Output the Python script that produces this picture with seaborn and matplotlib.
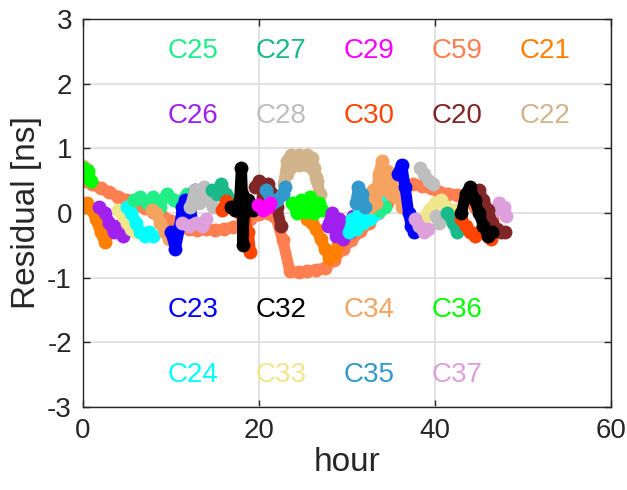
import matplotlib
matplotlib.use("Agg")
import matplotlib.pyplot as plt
import pandas as pd
import seaborn as sns

# residual passes per satellite, hours and ns
C59_HOUR = [[0, 1, 2, 3, 4, 5, 6, 7, 8, 9, 10, 11, 12, 13, 14, 15, 16, 17, 18, 19,
             20, 21, 22, 22.7, 23.5, 24.5, 25.5, 26.5, 27.5, 28.5, 29.5, 30.5, 31.5,
             32.5, 33.5, 34.5, 35.5, 36.5, 37.5, 38.5, 39.5, 40.5, 41.5, 42.5, 43.5,
             44.5, 45.5, 46.5]]
C59_RES = [[0.5, 0.45, 0.38, 0.32, 0.25, 0.2, 0.12, 0.08, 0.02, -0.05, -0.12, -0.2,
            -0.25, -0.27, -0.25, -0.27, -0.25, -0.22, -0.18, -0.1, -0.02, 0.0, -0.1,
            -0.42, -0.9, -0.92, -0.9, -0.88, -0.85, -0.72, -0.55, -0.42, -0.28, -0.15,
            0.0, 0.15, 0.3, 0.4, 0.45, 0.42, 0.38, 0.32, 0.3, 0.28, 0.22, 0.1, 0.0, -0.1]]
C21_HOUR = [[0, 0.5, 1, 1.5, 2, 2.5, 3], [25.5, 26, 26.5, 27, 27.5, 28, 28.5, 29]]
C21_RES = [[0.1, 0.15, 0.05, -0.1, -0.3, -0.45, -0.3], [-0.1, -0.15, -0.25, -0.4, -0.55, -0.7, -0.65, -0.5]]
C22_HOUR = [[0, 0.4], [22.8, 23.2, 23.6, 24, 24.5, 25, 25.5, 26, 26.3, 26.6, 26.9,
                       26.5, 26, 25.5, 25, 24.5, 24, 23.5, 23.2]]
C22_RES = [[0.72, 0.68], [0.45, 0.8, 0.9, 0.85, 0.9, 0.85, 0.9, 0.85, 0.7, 0.5, 0.3,
                          0.55, 0.7, 0.75, 0.8, 0.75, 0.8, 0.7, 0.6]]
C36_HOUR = [[0, 0.3, 0.6, 0.9], [23.8, 24.3, 24.8, 25.3, 25.8, 26.3, 26.8, 27.2]]
C36_RES = [[0.7, 0.55, 0.65, 0.5], [0.15, 0.0, 0.2, 0.02, 0.25, 0.0, 0.15, 0.05]]
C26_HOUR = [[1.8, 2.5, 3, 3.5, 4, 4.5], [27.8, 28.3, 28.7, 29.1, 29.5, 29.9, 30.3, 30.7, 31.1, 31.5]]
C26_RES = [[0.1, 0.0, -0.15, -0.3, -0.2, -0.35], [-0.2, 0.0, -0.35, -0.1, -0.4, -0.15, -0.3, -0.05, -0.2, 0.0]]
C33_HOUR = [[4, 4.5, 5, 5.5, 6], [38.7, 39.3, 40, 40.7, 41.3, 42, 42.5]]
C33_RES = [[0.05, -0.05, -0.15, -0.25, -0.3], [-0.1, 0.05, 0.15, 0.2, 0.1, 0.05, -0.05]]
C24_HOUR = [[5, 5.5, 6, 6.5, 7, 7.5, 8], [30.2, 30.6, 31, 31.4, 31.8, 32.2, 32.6, 33, 33.4, 33.8]]
C24_RES = [[0.1, 0.0, -0.15, -0.3, -0.35, -0.3, -0.35], [-0.3, -0.1, -0.25, 0.0, -0.15, 0.1, -0.1, 0.15, 0.0, 0.2]]
C25_HOUR = [[5.8, 6.5, 7.3, 8, 8.7, 9.5, 10.3, 11, 11.8], [33.3, 33.8, 34.3]]
C25_RES = [[0.2, 0.25, 0.15, 0.25, 0.1, 0.3, 0.2, 0.15, 0.3], [0.1, 0.05, 0.1]]
C34_HOUR = [[7.8, 8.3, 8.8, 9.3, 9.8], [32.6, 33, 33.3, 33.6, 34, 34.3, 34.6, 35, 35.3, 35.6, 36, 36.3, 36.6]]
C34_RES = [[0.05, 0.0, -0.15, -0.3, -0.4], [0.1, 0.35, 0.15, 0.6, 0.8, 0.35, 0.65, 0.3, 0.6, 0.25, 0.45, 0.1, 0.25]]
C23_HOUR = [[10, 10.5, 11, 11.3, 11.6, 12.2, 12.7], [35.8, 36.2, 36.6, 37, 37.3, 37.6]]
C23_RES = [[-0.3, -0.55, -0.2, 0.1, 0.2, -0.05, 0.35], [0.6, 0.75, 0.4, 0.0, -0.2, -0.3]]
C37_HOUR = [[11.3, 12, 12.8, 13.5, 14], [37.7, 38.2, 38.7, 39.2], [46.8, 47.3, 47.8, 48.1]]
C37_RES = [[-0.15, -0.2, -0.15, -0.2, -0.1], [-0.1, -0.2, -0.3, -0.25], [0.05, 0.15, 0.1, -0.05]]
C28_HOUR = [[12.2, 12.7, 13.2, 13.7, 14.2, 14.8], [38.3, 38.8, 39.3, 39.8], [40.1, 40.5]]
C28_RES = [[0.1, 0.35, 0.15, 0.4, 0.2, 0.1], [0.7, 0.6, 0.5, 0.45], [-0.05, -0.15]]
C27_HOUR = [[14.7, 15.2, 15.7, 16.2, 16.8], [41.4, 42, 42.5]]
C27_RES = [[0.35, 0.3, 0.45, 0.3, 0.2], [0.0, -0.15, -0.3]]
C30_HOUR = [[15.8, 16.3, 16.8, 17.3, 17.8, 18.3, 18.8, 19.0], [43, 43.5, 44, 44.5, 45, 45.5, 46, 46.4]]
C30_RES = [[0.05, 0.18, 0.12, 0.05, 0.0, -0.1, -0.3, -0.6], [-0.1, -0.2, -0.3, -0.35, -0.3, -0.25, -0.35, -0.4]]
C20_HOUR = [[19.5, 20, 20.5, 21, 21.5, 22, 22.5], [44.5, 45, 45.5, 46, 46.5, 47, 47.5, 48]]
C20_RES = [[0.4, 0.5, 0.25, 0.45, 0.3, 0.1, -0.2], [0.2, 0.35, 0.2, 0.05, -0.15, -0.25, -0.3, -0.3]]
C32_HOUR = [[16.8, 17.3, 17.8, 18.0, 18.1, 18.15, 18.3, 18.8, 19.3], [43, 43.5, 44, 44.5, 45, 45.5, 46, 46.5]]
C32_RES = [[0.1, 0.05, 0.2, 0.7, 0.3, -0.5, 0.0, 0.2, 0.05], [0.0, 0.3, 0.4, 0.2, 0.0, -0.2, -0.35, -0.3]]
C35_HOUR = [[20.8, 21.5, 22, 22.7, 23], [31, 31.3, 31.7, 32]]
C35_RES = [[0.35, 0.15, 0.2, 0.3, 0.4], [0.15, 0.4, 0.3, 0.1]]
C29_HOUR = [[19.9, 20.4, 21, 21.3]]
C29_RES = [[0.12, 0.05, 0.1, 0.15]]

PASSES = {
    "C59": (C59_HOUR, C59_RES), "C21": (C21_HOUR, C21_RES), "C22": (C22_HOUR, C22_RES),
    "C36": (C36_HOUR, C36_RES), "C26": (C26_HOUR, C26_RES), "C33": (C33_HOUR, C33_RES),
    "C24": (C24_HOUR, C24_RES), "C25": (C25_HOUR, C25_RES), "C34": (C34_HOUR, C34_RES),
    "C23": (C23_HOUR, C23_RES), "C37": (C37_HOUR, C37_RES), "C28": (C28_HOUR, C28_RES),
    "C27": (C27_HOUR, C27_RES), "C30": (C30_HOUR, C30_RES), "C20": (C20_HOUR, C20_RES),
    "C32": (C32_HOUR, C32_RES), "C35": (C35_HOUR, C35_RES), "C29": (C29_HOUR, C29_RES),
}

COLORS = {
    "C25": "#22EE88", "C27": "#19B98A", "C29": "#FF00FF", "C59": "#FF7F50", "C21": "#FF8000",
    "C26": "#A020F0", "C28": "#BEBEBE", "C30": "#FF4500", "C20": "#7F2626", "C22": "#D2B48C",
    "C23": "#0000FF", "C32": "#000000", "C34": "#F4A460", "C36": "#00FF00",
    "C24": "#00FFFF", "C33": "#F0E68C", "C35": "#3399CC", "C37": "#DDA0DD",
}

# label grid: rows of names with their y position in data units
LABEL_ROWS = [
    (["C25", "C27", "C29", "C59", "C21"], 2.5),
    (["C26", "C28", "C30", "C20", "C22"], 1.5),
    (["C23", "C32", "C34", "C36"], -1.5),
    (["C24", "C33", "C35", "C37"], -2.5),
]
LABEL_X = [12.5, 22.5, 32.5, 42.5, 52.5]

rows = []
for sat, (hours, res) in PASSES.items():
    for k, (hh, rr) in enumerate(zip(hours, res)):
        for h, r in zip(hh, rr):
            rows.append({"sat": sat, "pass": f"{sat}_{k}", "hour": h, "res": r})
df = pd.DataFrame(rows)

sns.set_style("ticks")
plt.rcParams["font.family"] = ["Liberation Sans", "DejaVu Sans"]
plt.rcParams["axes.unicode_minus"] = False

fig = plt.figure(figsize=(6.27, 4.9), dpi=100)
ax = fig.add_axes([0.1324, 0.1694, 0.8421, 0.7918])
ax.grid(True, color="#DDDDDD", lw=1.2)
ax.set_axisbelow(True)

sns.lineplot(data=df, x="hour", y="res", hue="sat", units="pass", estimator=None,
             sort=False, hue_order=list(PASSES.keys()), palette=COLORS, lw=8,
             marker="o", markersize=10, markeredgewidth=0,
             solid_capstyle="round", solid_joinstyle="round", legend=False, ax=ax)

for names, y in LABEL_ROWS:
    for name, x in zip(names, LABEL_X):
        ax.text(x, y, name, color=COLORS[name], fontsize=20, ha="center", va="center")

ax.set_xlim(0, 60)
ax.set_ylim(-3, 3)
ax.set_xticks([0, 20, 40, 60])
ax.set_yticks([-3, -2, -1, 0, 1, 2, 3])
ax.set_xlabel("hour", fontsize=24, labelpad=2)
ax.set_ylabel("Residual [ns]", fontsize=24)
ax.tick_params(direction="in", top=True, right=True, length=5, width=1,
               color="#262626", labelsize=20, pad=8)
for s in ax.spines.values():
    s.set_color("#262626")
    s.set_linewidth(1)

fig.savefig("out.png", dpi=100)
